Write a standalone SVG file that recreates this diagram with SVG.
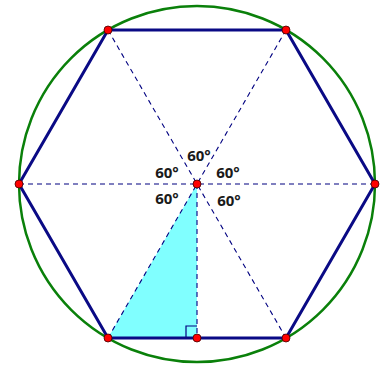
<svg xmlns="http://www.w3.org/2000/svg" width="388" height="369" viewBox="0 0 388 369">
<style>
.dash{stroke:#000080;stroke-width:1.1;stroke-dasharray:5,4;fill:none}
.hex{stroke:#0a0a85;stroke-width:3;fill:none;stroke-linejoin:round}
.pt{fill:#ff0000;stroke:#400000;stroke-width:0.8}
.lbl{font-family:"Open Sans","Liberation Sans",sans-serif;font-weight:bold;font-size:15px;fill:#1a1a1a}
</style>
<rect width="388" height="369" fill="#ffffff"/>
<g id="triangle">
<polygon points="197,184 108,338 197,338" fill="#80ffff"/>
</g>
<g id="connectors">
<line class="dash" x1="19" y1="184" x2="375" y2="184"/>
<line class="dash" x1="108" y1="30" x2="286" y2="338"/>
<line class="dash" x1="286" y1="30" x2="108" y2="338"/>
<line class="dash" x1="197" y1="184" x2="197" y2="338"/>
<path d="M186,338 V326 H197" fill="none" stroke="#000080" stroke-width="1.2"/>
</g>
<g id="circle">
<circle cx="197" cy="184" r="178" fill="none" stroke="#0a800a" stroke-width="2.5"/>
</g>
<g id="hexagon">
<polygon class="hex" points="108,30 286,30 375,184 286,338 108,338 19,184"/>
</g>
<g id="labels">
<text class="lbl" x="199" y="161" text-anchor="middle">60°</text>
<text class="lbl" x="167" y="178" text-anchor="middle">60°</text>
<text class="lbl" x="228" y="178" text-anchor="middle">60°</text>
<text class="lbl" x="167" y="204" text-anchor="middle">60°</text>
<text class="lbl" x="229" y="206" text-anchor="middle">60°</text>
</g>
<g id="points">
<circle class="pt" cx="197" cy="184" r="4"/>
<circle class="pt" cx="108" cy="30" r="4"/>
<circle class="pt" cx="286" cy="30" r="4"/>
<circle class="pt" cx="375" cy="184" r="4"/>
<circle class="pt" cx="19" cy="184" r="4"/>
<circle class="pt" cx="108" cy="338" r="4"/>
<circle class="pt" cx="286" cy="338" r="4"/>
<circle class="pt" cx="197" cy="338" r="4"/>
</g>
</svg>
